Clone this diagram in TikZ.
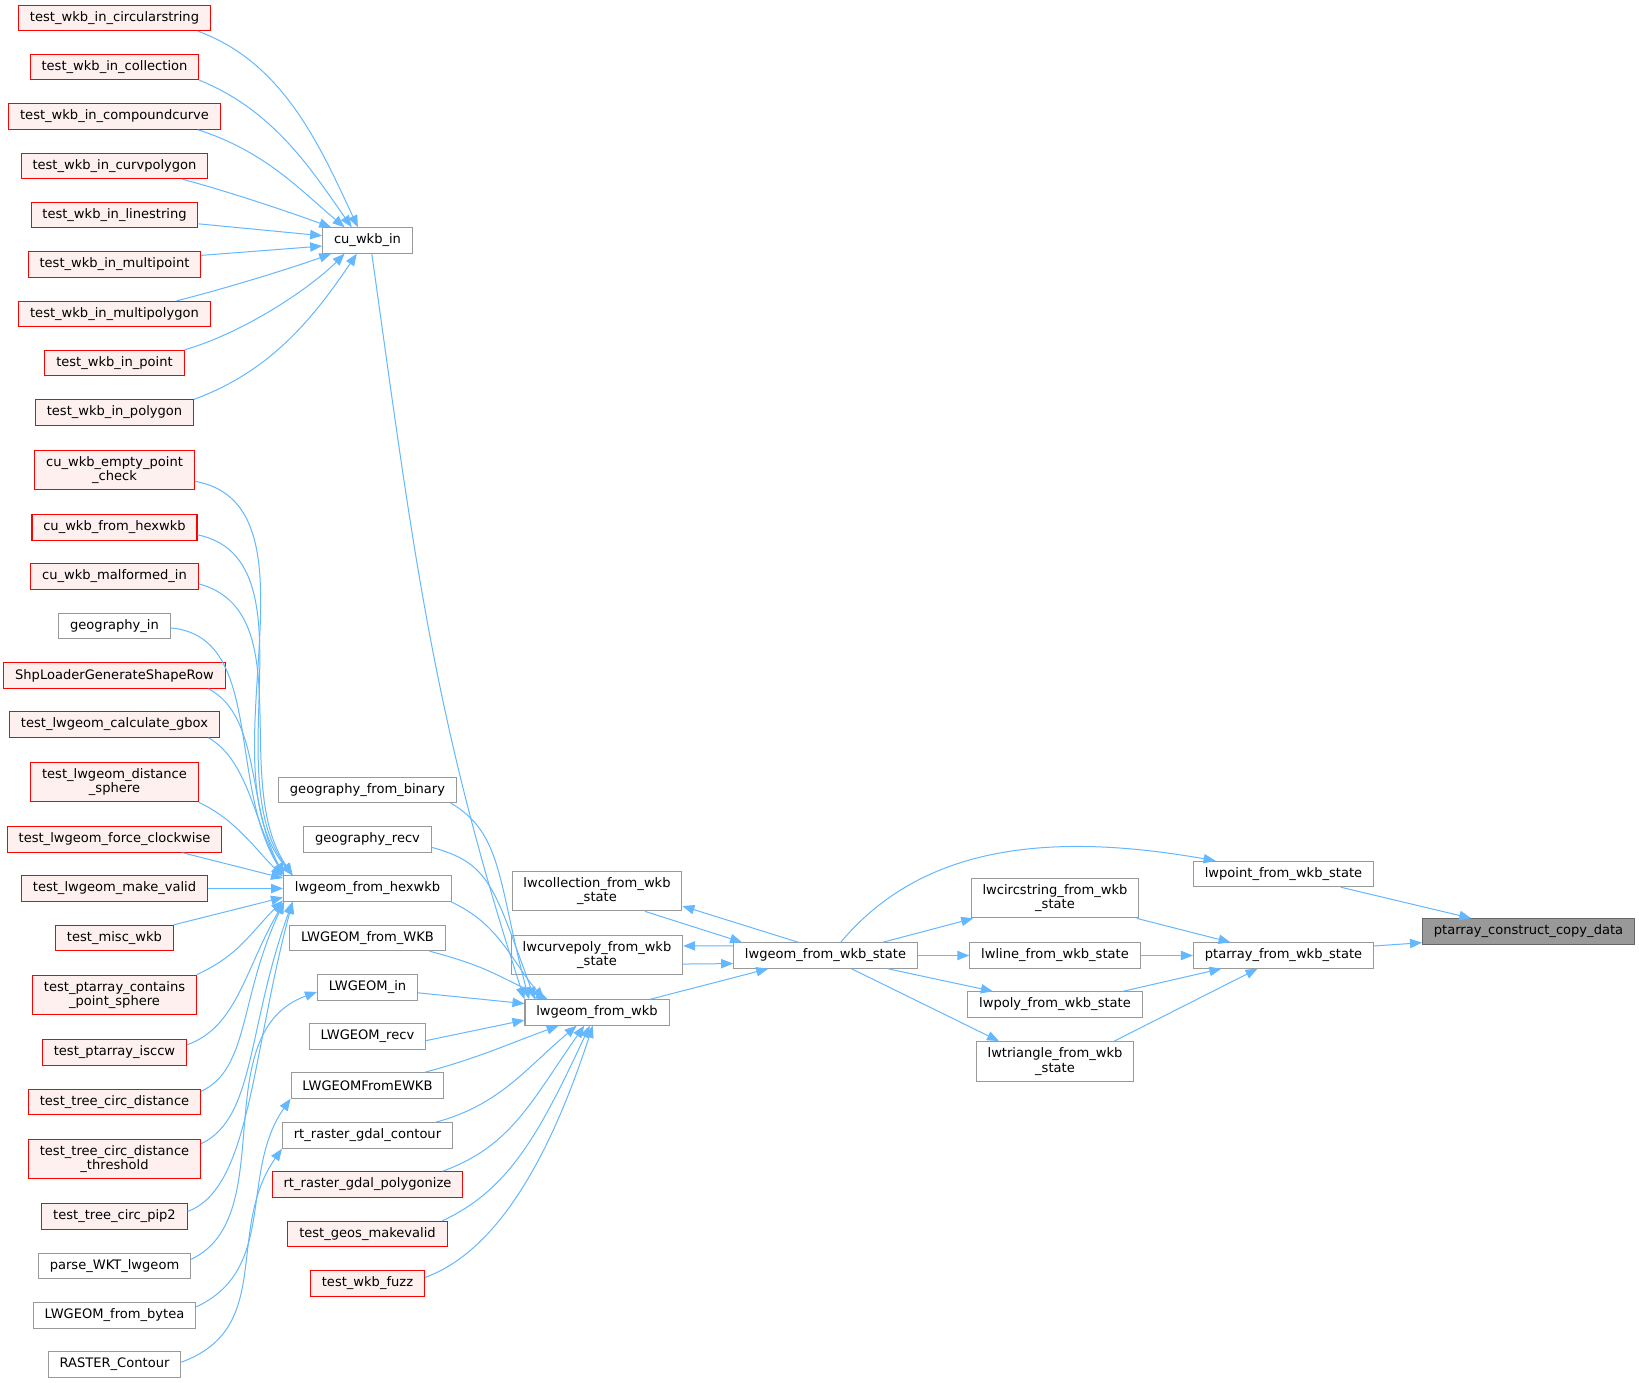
\documentclass[tikz,border=0pt]{standalone}
\usepackage{fontspec}
\setmainfont{DejaVu Sans}
\usepackage{tikz}
\usetikzlibrary{arrows.meta}
\definecolor{edgeblue}{HTML}{63B8FF}
\definecolor{truncred}{HTML}{FF0000}
\definecolor{truncfill}{HTML}{FFF0F0}
\definecolor{plaingray}{HTML}{999999}
\definecolor{rootgray}{HTML}{666666}

\begin{document}
\begin{tikzpicture}[
    x=0.75pt, y=0.75pt,
    fnplain/.style={draw=plaingray, fill=white, line width=0.8pt,
                    font=\fontsize{9.8}{11}\selectfont, align=center,
                    inner xsep=8.5pt, inner ysep=4.5pt, minimum height=19pt},
    fntrunc/.style={fnplain, draw=truncred, fill=truncfill},
    fnroot/.style={fnplain, draw=rootgray, fill=plaingray},
    calls/.style={draw=edgeblue, line width=0.75pt,
                  -{Triangle[length=9pt, width=7pt]}},
]
  \path[use as bounding box, fill=white] (0,0) rectangle (1639,-1383);

  % ---- Callers of cu_wkb_in ----
  \node[fntrunc] (circ)   at (114.5,  -18)   {test\_wkb\_in\_circularstring};
  \node[fntrunc] (coll)   at (114.5,  -67)   {test\_wkb\_in\_collection};
  \node[fntrunc] (ccurve) at (114.5, -116.5) {test\_wkb\_in\_compoundcurve};
  \node[fntrunc] (cpoly)  at (114.5, -166)   {test\_wkb\_in\_curvpolygon};
  \node[fntrunc] (lstr)   at (114.5, -215)   {test\_wkb\_in\_linestring};
  \node[fntrunc] (mpt)    at (114.5, -264.5) {test\_wkb\_in\_multipoint};
  \node[fntrunc] (mpoly)  at (114.5, -314)   {test\_wkb\_in\_multipolygon};
  \node[fntrunc] (wpt)    at (114.5, -363)   {test\_wkb\_in\_point};
  \node[fntrunc] (wpoly)  at (114.5, -412.5) {test\_wkb\_in\_polygon};

  % ---- Callers of lwgeom_from_hexwkb ----
  \node[fntrunc] (epc)    at (114.5, -470)   {cu\_wkb\_empty\_point\\\_check};
  \node[fntrunc] (fhex)   at (114.5, -527.5) {cu\_wkb\_from\_hexwkb};
  \node[fntrunc] (malf)   at (114.5, -576.5) {cu\_wkb\_malformed\_in};
  \node[fnplain] (geoin)  at (114.5, -626)   {geography\_in};
  \node[fntrunc] (shp)    at (114.5, -675.5) {ShpLoaderGenerateShapeRow};
  \node[fntrunc] (gbox)   at (114.5, -724.5) {test\_lwgeom\_calculate\_gbox};
  \node[fntrunc] (dsph)   at (114.5, -782)   {test\_lwgeom\_distance\\\_sphere};
  \node[fntrunc] (fcw)    at (114.5, -839.5) {test\_lwgeom\_force\_clockwise};
  \node[fntrunc] (mkv)    at (114.5, -888.5) {test\_lwgeom\_make\_valid};
  \node[fntrunc] (misc)   at (114.5, -938)   {test\_misc\_wkb};
  \node[fntrunc] (pcps)   at (114.5, -995)   {test\_ptarray\_contains\\\_point\_sphere};
  \node[fntrunc] (iccw)   at (114.5, -1052.5){test\_ptarray\_isccw};
  \node[fntrunc] (tcd)    at (114.5, -1102)  {test\_tree\_circ\_distance};
  \node[fntrunc] (tcdt)   at (114.5, -1159)  {test\_tree\_circ\_distance\\\_threshold};
  \node[fntrunc] (pip)    at (114.5, -1216.5){test\_tree\_circ\_pip2};
  \node[fnplain] (pwkt)   at (114.5, -1266)  {parse\_WKT\_lwgeom};
  \node[fnplain] (fbytea) at (114.5, -1315.5){LWGEOM\_from\_bytea};
  \node[fnplain] (rcont)  at (114.5, -1364.5){RASTER\_Contour};

  % ---- Callers of lwgeom_from_wkb ----
  \node[fnplain] (cuin)   at (367.5, -240.5) {cu\_wkb\_in};
  \node[fnplain] (gbin)   at (367.5, -790)   {geography\_from\_binary};
  \node[fnplain] (grecv)  at (367.5, -839.5) {geography\_recv};
  \node[fnplain] (hex)    at (367.5, -888.5) {lwgeom\_from\_hexwkb};
  \node[fnplain] (fwkb)   at (367.5, -938)   {LWGEOM\_from\_WKB};
  \node[fnplain] (lin)    at (367.5, -987.5) {LWGEOM\_in};
  \node[fnplain] (lrecv)  at (367.5, -1036.5){LWGEOM\_recv};
  \node[fnplain] (ewkb)   at (367.5, -1085.5){LWGEOMFromEWKB};
  \node[fnplain] (gcont)  at (367.5, -1135.5){rt\_raster\_gdal\_contour};
  \node[fntrunc] (gpoly)  at (367.5, -1184.5){rt\_raster\_gdal\_polygonize};
  \node[fntrunc] (gmv)    at (367.5, -1234)  {test\_geos\_makevalid};
  \node[fntrunc] (fuzz)   at (367.5, -1283.5){test\_wkb\_fuzz};

  % ---- Middle of the graph ----
  \node[fnplain] (lwcoll)  at (597, -891)    {lwcollection\_from\_wkb\\\_state};
  \node[fnplain] (lwcurve) at (597, -955)    {lwcurvepoly\_from\_wkb\\\_state};
  \node[fnplain] (wkb)     at (597, -1012.5) {lwgeom\_from\_wkb};
  \node[fnplain] (wkbst)   at (825.5, -955.5){lwgeom\_from\_wkb\_state};
  \node[fnplain] (lwcirc)  at (1055, -898)   {lwcircstring\_from\_wkb\\\_state};
  \node[fnplain] (lwline)  at (1055, -955.5) {lwline\_from\_wkb\_state};
  \node[fnplain] (lwpoly)  at (1055, -1004.5){lwpoly\_from\_wkb\_state};
  \node[fnplain] (lwtri)   at (1055, -1061.5){lwtriangle\_from\_wkb\\\_state};
  \node[fnplain] (lwpt)    at (1283.5, -874) {lwpoint\_from\_wkb\_state};
  \node[fnplain] (pafw)    at (1283.5, -955.5){ptarray\_from\_wkb\_state};
  \node[fnroot]  (pacc)    at (1528.5, -931.5){ptarray\_construct\_copy\_data};

  % ---- Edges into cu_wkb_in ----
  \draw[calls] (circ.-9) to[out=-20, in=115, out distance=68pt, in distance=68pt] (cuin.126);
  \draw[calls] (coll.south east) to[out=-22, in=125, out distance=60pt, in distance=53pt] (cuin.140);
  \draw[calls] (ccurve.-9) to[out=-18, in=140, out distance=53pt, in distance=45pt] (cuin.150);
  \draw[calls] (cpoly.-11) to[out=-15, in=160, out distance=38pt, in distance=30pt] (cuin.160);
  \draw[calls] (lstr.-6) -- (cuin.174);
  \draw[calls] (mpt.6) -- (cuin.187);
  \draw[calls] (mpoly.12) to[out=14, in=200, out distance=38pt, in distance=30pt] (cuin.200);
  \draw[calls] (wpt.north east) to[out=16, in=225, out distance=45pt, in distance=38pt] (cuin.210);
  \draw[calls] (wpoly.north east) to[out=20, in=236, out distance=60pt, in distance=60pt] (cuin.231);

  % ---- Edges into lwgeom_from_hexwkb ----
  \draw[calls] (epc.-8) to[out=-10, in=130, out distance=102pt, in distance=105pt] (hex.170);
  \draw[calls] (fhex.-5) to[out=-12, in=127, out distance=90pt, in distance=95pt] (hex.170);
  \draw[calls] (malf.-5) to[out=-15, in=124, out distance=80pt, in distance=85pt] (hex.170);
  \draw[calls] (geoin.-2) to[out=-5, in=122, out distance=70pt, in distance=80pt] (hex.171);
  \draw[calls] (shp.-8) to[out=-28, in=118, out distance=45pt, in distance=60pt] (hex.171);
  \draw[calls] (gbox.-8) to[out=-30, in=120, out distance=35pt, in distance=45pt] (hex.171);
  \draw[calls] (dsph.south east) to[out=-25, in=135, out distance=30pt, in distance=30pt] (hex.172);
  \draw[calls] (fcw.-11) -- (hex.173);
  \draw[calls] (mkv.east) -- (hex.west);
  \draw[calls] (misc.north east) -- (hex.186);
  \draw[calls] (pcps.north east) to[out=25, in=225, out distance=35pt, in distance=35pt] (hex.188);
  \draw[calls] (iccw.6) to[out=20, in=240, out distance=40pt, in distance=60pt] (hex.189);
  \draw[calls] (tcd.7) to[out=25, in=245, out distance=40pt, in distance=80pt] (hex.189);
  \draw[calls] (tcdt.10) to[out=25, in=250, out distance=45pt, in distance=100pt] (hex.190);
  \draw[calls] (pip.4) to[out=20, in=255, out distance=50pt, in distance=120pt] (hex.190);

  % ---- Short hops on the left ----
  \draw[calls] (pwkt.5) to[out=25, in=200, out distance=75pt, in distance=90pt] (lin.185);
  \draw[calls] (fbytea.6) to[out=25, in=235, out distance=68pt, in distance=68pt] (ewkb.south west);
  \draw[calls] (rcont.2) to[out=20, in=235, out distance=75pt, in distance=75pt] (gcont.south west);

  % ---- Edges into lwgeom_from_wkb ----
  \draw[calls] (cuin.-72) to[out=-82, in=108] (wkb.north west);
  \draw[calls] (gbin.-9) to[out=-30, in=105, out distance=45pt, in distance=90pt] (wkb.169);
  \draw[calls] (grecv.-7) to[out=-15, in=110, out distance=45pt, in distance=90pt] (wkb.168);
  \draw[calls] (hex.-9) to[out=-25, in=130, out distance=40pt, in distance=40pt] (wkb.166);
  \draw[calls] (fwkb.-12) to[out=-15, in=155, out distance=45pt, in distance=45pt] (wkb.165);
  \draw[calls] (lin.-6) -- (wkb.173);
  \draw[calls] (lrecv.-4) -- (wkb.186);
  \draw[calls] (ewkb.13) to[out=15, in=200] (wkb.199);
  \draw[calls] (gcont.11) to[out=15, in=220, out distance=50pt, in distance=50pt] (wkb.213);
  \draw[calls] (gpoly.10) to[out=20, in=235, out distance=55pt, in distance=70pt] (wkb.226);
  \draw[calls] (gmv.10) to[out=25, in=245, out distance=55pt, in distance=90pt] (wkb.241);
  \draw[calls] (fuzz.6) to[out=20, in=252, out distance=55pt, in distance=110pt] (wkb.252);

  % ---- Right half ----
  \draw[calls] (wkb.14) -- (wkbst.193);
  \draw[calls] (lwcoll.-23) -- (wkbst.171);
  \draw[calls] (wkbst.154) -- (lwcoll.350);
  \draw[calls] (wkbst.174) -- (lwcurve.6);
  \draw[calls] (lwcurve.-6) -- (wkbst.185);
  \draw[calls] (wkbst.41) to[out=50, in=170, out distance=90pt, in distance=135pt] (lwpt.169);
  \draw[calls] (wkbst.13) -- (lwcirc.194);
  \draw[calls] (wkbst.east) -- (lwline.west);
  \draw[calls] (wkbst.-12) -- (lwpoly.168);
  \draw[calls] (wkbst.-27) -- (lwtri.160);
  \draw[calls] (lwcirc.-14) -- (pafw.166);
  \draw[calls] (lwline.east) -- (pafw.west);
  \draw[calls] (lwpoly.11) -- (pafw.192);
  \draw[calls] (lwtri.19) -- (pafw.207);
  \draw[calls] (lwpt.-13) -- (pacc.167);
  \draw[calls] (pafw.6) -- (pacc.186);

\end{tikzpicture}
\end{document}
